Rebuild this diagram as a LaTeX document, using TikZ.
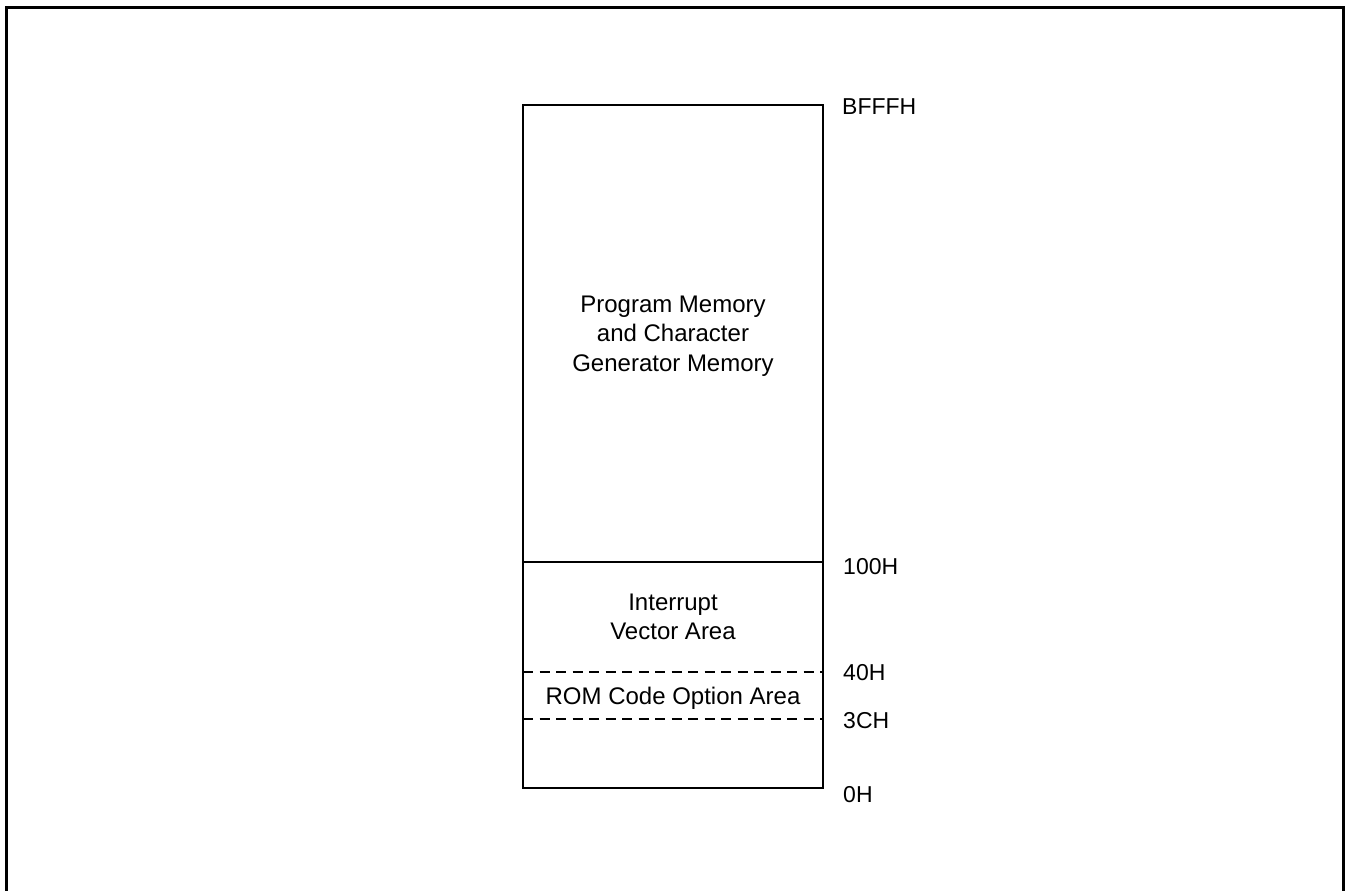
\documentclass[tikz,border=0pt]{standalone}
\usepackage{fontspec}
\setmainfont{Liberation Sans}
\begin{document}
\begin{tikzpicture}[x=1pt,y=-1pt,
  lbl/.style={anchor=west,inner sep=0pt,font=\fontsize{23}{27}\selectfont},
  txt/.style={align=center,inner sep=0pt,font=\fontsize{24}{29.5}\selectfont},
  box/.style={line width=1.4pt},
  dsh/.style={line width=1.2pt,dash pattern=on 10pt off 6.5pt}]
\useasboundingbox (0,0) rectangle (1346,891);
\draw[line width=3pt] (6,891) -- (6,8) -- (1343,8) -- (1343,891);
\coordinate (tl) at (523,105);
\coordinate (br) at (823,788);
\draw[box] (tl) rectangle (br);
\draw[box] (523,562) -- (823,562);
\draw[dsh] (523,672) -- (823,672);
\draw[dsh] (523,719) -- (823,719);
\node[lbl] (a1) at (842,107) {BFFFH};
\node[lbl] (a2) at (843,567) {100H};
\node[lbl] (a3) at (843,673) {40H};
\node[lbl] (a4) at (843,721) {3CH};
\node[lbl] (a5) at (843,795) {0H};
\node[txt] (t1) at (673,336) {Program Memory\\and Character\\Generator Memory};
\node[txt] (t2) at (673,617) {Interrupt\\Vector Area};
\node[txt] (t3) at (673,698) {ROM Code Option Area};
\end{tikzpicture}
\end{document}
